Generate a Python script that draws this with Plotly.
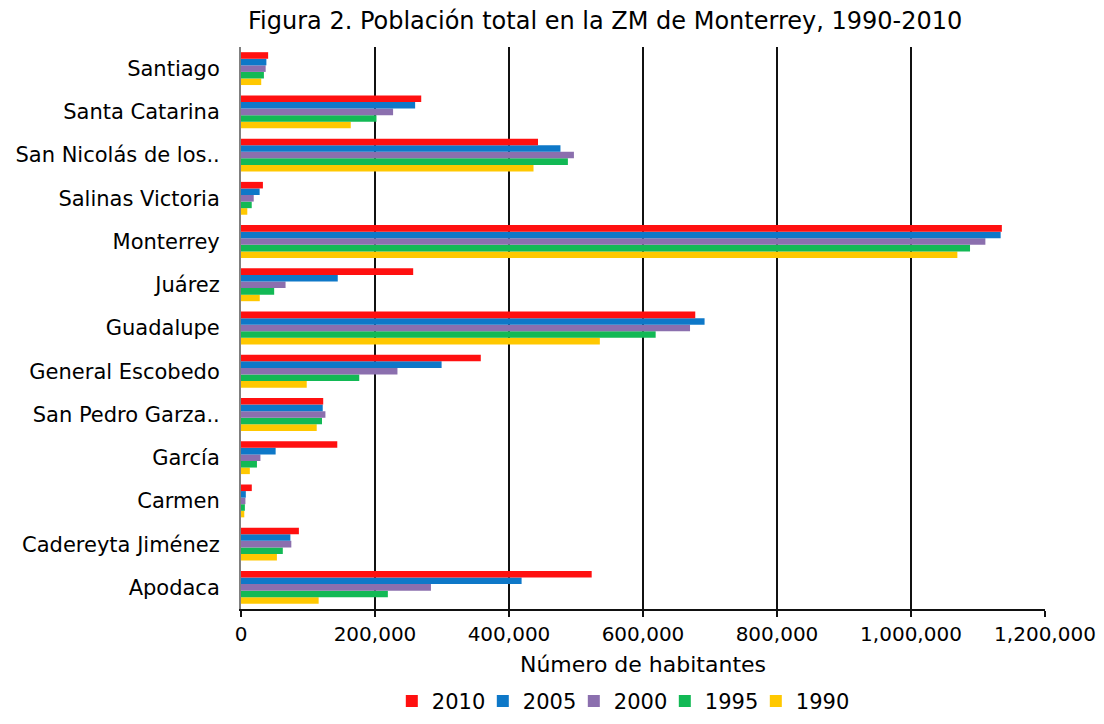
import plotly.graph_objects as go

categories = ["Apodaca", "Cadereyta Jiménez", "Carmen", "García", "San Pedro Garza..",
              "General Escobedo", "Guadalupe", "Juárez", "Monterrey", "Salinas Victoria",
              "San Nicolás de los..", "Santa Catarina", "Santiago"]

v2010 = [523400, 86400, 16100, 143700, 122700, 357900, 678000, 257000, 1135600, 32700, 443300, 269000, 40500]
v2005 = [418800, 73700, 7200, 51700, 122000, 299400, 691900, 144400, 1133800, 27800, 476800, 259900, 37900]
v2000 = [283500, 75100, 6600, 29000, 126000, 233500, 670200, 66500, 1111000, 19000, 496900, 227000, 36800]
v1995 = [219200, 62400, 5800, 23800, 120900, 176500, 618900, 49500, 1088100, 16000, 487900, 202200, 34200]
v1990 = [115900, 53600, 4900, 13200, 113000, 98100, 535600, 28000, 1069200, 9400, 436600, 163800, 30200]

years = ["1990", "1995", "2000", "2005", "2010"]
series = [v1990, v1995, v2000, v2005, v2010]
colors = ["#FFC800", "#12B955", "#8B6FAE", "#0E78C8", "#FF1010"]

x_ticks = [0, 200000, 400000, 600000, 800000, 1000000, 1200000]
x_tick_labels = ["0", "200,000", "400,000", "600,000", "800,000", "1,000,000", "1,200,000"]

FONT = "DejaVu Sans, Liberation Sans, Arial, sans-serif"

fig = go.Figure()
for i, (yr, vals, col) in enumerate(zip(years, series, colors)):
    fig.add_trace(go.Bar(y=categories, x=vals, name=yr, orientation="h",
                         marker=dict(color=col, line=dict(width=0)),
                         legendwidth=58 if i == 0 else 46))

fig.update_layout(
    width=1104, height=724,
    barmode="group", bargap=0.24, bargroupgap=0,
    plot_bgcolor="white", paper_bgcolor="white",
    margin=dict(l=233, r=67, t=39, b=123, autoexpand=False),
    font=dict(family=FONT, size=21, color="black"),
    showlegend=True,
    legend=dict(orientation="h", traceorder="reversed", x=0.478, xanchor="center",
                y=-0.128, yanchor="top", font=dict(size=21), itemwidth=30,
                entrywidthmode="pixels"),
    annotations=[dict(text="Figura 2. Población total en la ZM de Monterrey, 1990-2010",
                      xref="paper", yref="paper", x=0.453, y=1.0, yshift=26,
                      xanchor="center", yanchor="middle", showarrow=False,
                      font=dict(size=24, family=FONT))],
)
fig.update_xaxes(range=[0, 1200000], tickvals=x_ticks, ticktext=x_tick_labels,
                 showgrid=True, gridcolor="#111111", gridwidth=2,
                 showline=True, linecolor="#111111", linewidth=2,
                 ticks="outside", ticklen=6, tickwidth=2, tickcolor="#111111",
                 tickfont=dict(size=20), zeroline=False, automargin=False,
                 title=dict(text="Número de habitantes", font=dict(size=22), standoff=12))
fig.update_yaxes(showline=True, linecolor="#808080", linewidth=2, ticks="",
                 ticklabelstandoff=15, tickfont=dict(size=21), showgrid=False,
                 automargin=False,
                 categoryorder="array", categoryarray=categories)

fig.write_html("out.html")
